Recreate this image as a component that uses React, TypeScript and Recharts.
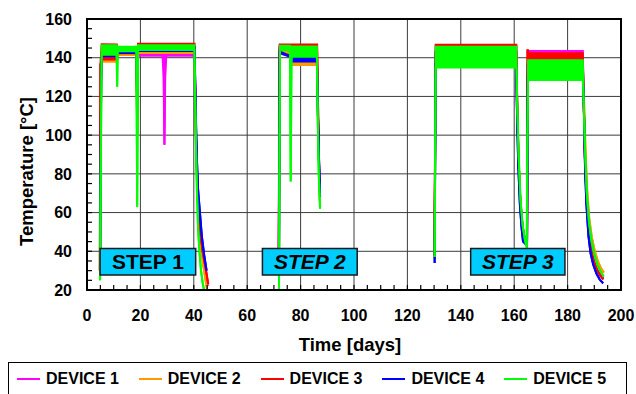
import { ComposedChart, Area, XAxis, YAxis, CartesianGrid, ReferenceArea, Legend } from 'recharts'

// [day, low, high] — low === high on ramps, a band on the plateaus; null row = no data
type Row = [number, number | null, number | null]

const DAY_TICKS = [0, 20, 40, 60, 80, 100, 120, 140, 160, 180, 200]
const DAY_MINOR = [0, 5, 10, 15, 20, 25, 30, 35, 40, 45, 50, 55, 60, 65, 70, 75, 80, 85, 90, 95, 100, 105, 110, 115, 120, 125, 130, 135, 140, 145, 150, 155, 160, 165, 170, 175, 180, 185, 190, 195, 200]
const TEMP_TICKS = [20, 40, 60, 80, 100, 120, 140, 160]
const TEMP_MINOR = [20, 25, 30, 35, 40, 45, 50, 55, 60, 65, 70, 75, 80, 85, 90, 95, 100, 105, 110, 115, 120, 125, 130, 135, 140, 145, 150, 155, 160]

const DEVICE_1: Row[] = [
  [4.9, 30, 30], [5.3, 130, 130], [5.6, 139, 145], [11.2, 139, 145], [11.5, 141.5, 144], [18.5, 141.5, 144],
  [18.8, 120, 120], [19.1, 141, 145], [28.3, 141, 145], [28.7, 130, 141], [29.0, 95, 95], [29.3, 130, 141],
  [29.7, 141, 145], [40.3, 141, 145], [40.6, 115, 115], [41.0, 88, 88], [41.6, 66, 66], [42.4, 50, 50],
  [43.3, 40, 40], [44.5, 29, 29], [45.2, 22, 22],
  [58, null, null],
  [71.8, 40, 40], [72.1, 145, 146.3], [76.0, 145, 146.3], [76.4, 139, 144], [86.1, 139, 144], [86.5, 110, 110],
  [87.0, 80, 80],
  [110, null, null],
  [130.2, 38, 38], [130.4, 100, 100], [130.6, 142.5, 146], [160.8, 142.5, 146], [161.1, 118, 118], [161.6, 88, 88],
  [162.3, 66, 66], [163.1, 53, 53], [164.0, 46, 46], [164.8, 43, 43], [165.1, 138, 143.5], [185.7, 138, 143.5],
  [186.0, 118, 118], [186.5, 88, 88], [187.1, 67, 67], [187.9, 51, 51], [188.8, 42, 42], [189.8, 35, 35],
  [191.0, 30.5, 30.5], [192.2, 28, 28], [193.4, 26, 26],
]

const DEVICE_2: Row[] = [
  [4.9, 28, 28], [5.3, 130, 130], [5.6, 137.9, 139.4], [11.2, 137.9, 139.4], [11.5, 141.4, 143.3], [18.5, 141.4, 143.3],
  [18.8, 110, 110], [19.1, 142.4, 144], [40.3, 142.4, 144], [40.6, 110, 110], [41.0, 85, 85], [41.6, 62, 62],
  [42.4, 46, 46], [43.3, 35, 35], [44.3, 26, 26], [45.0, 20, 20],
  [58, null, null],
  [71.9, 30, 30], [72.2, 142, 144], [76.0, 141, 143], [76.5, 136.2, 138.5], [86.1, 136.2, 138.5], [86.5, 110, 110],
  [86.9, 85, 85], [87.2, 66, 66],
  [110, null, null],
  [130.2, 36, 36], [130.4, 95, 95], [130.6, 138, 144], [160.7, 138, 144], [161.0, 118, 118], [161.6, 88, 88],
  [162.3, 66, 66], [163.1, 53, 53], [164.0, 46, 46], [164.8, 43, 43], [165.1, 131, 137], [185.7, 131, 137],
  [186.1, 120, 120], [186.7, 92, 92], [187.3, 72, 72], [188.1, 57, 57], [189.1, 47, 47], [190.2, 40, 40],
  [191.3, 35, 35], [192.4, 31.5, 31.5], [193.6, 29, 29],
]

const DEVICE_3: Row[] = [
  [4.8, 30, 30], [5.0, 136, 136], [5.5, 139.1, 147], [11.2, 139.1, 146.8], [11.5, 142.3, 144.2], [18.5, 142.3, 144.2],
  [18.8, 100, 100], [19.1, 143.5, 147.2], [40.3, 143.5, 147.2], [40.6, 115, 115], [41.0, 88, 88], [41.6, 66, 66],
  [42.4, 50, 50], [43.3, 40, 40], [44.6, 30, 30], [45.4, 23, 23],
  [58, null, null],
  [71.8, 35, 35], [72.2, 145.5, 146.8], [76.0, 145.5, 146.8], [76.4, 143, 146.8], [86.2, 143, 146.8], [86.6, 110, 110],
  [87.0, 75, 75],
  [110, null, null],
  [130.1, 38, 38], [130.4, 100, 100], [130.6, 143, 146.7], [160.8, 143, 146.7], [161.1, 118, 118], [161.6, 88, 88],
  [162.3, 66, 66], [163.1, 53, 53], [164.0, 46, 46], [164.8, 43, 43], [165.0, 144.3, 144.3], [165.5, 136.3, 142.5],
  [185.7, 136.3, 142.3], [186.0, 118, 118], [186.5, 88, 88], [187.1, 67, 67], [187.9, 51, 51], [188.8, 42, 42],
  [189.8, 35, 35], [191.0, 30.5, 30.5], [192.2, 27.5, 27.5], [193.4, 25.5, 25.5],
]

const DEVICE_4: Row[] = [
  [4.9, 30, 30], [5.3, 128, 128], [5.6, 140.8, 141.4], [11.2, 140.8, 141.4], [11.5, 142.5, 144.5], [18.5, 142.5, 144.5],
  [18.8, 115, 115], [19.1, 143.5, 145.5], [40.3, 143.5, 145.5], [40.7, 115, 115], [41.1, 90, 90], [41.6, 72, 72],
  [42.3, 60, 60], [43.0, 48, 48], [43.9, 38, 38], [44.8, 30, 30],
  [58, null, null],
  [71.9, 28, 28], [72.2, 143, 143.6], [73.0, 142, 142.7], [74.5, 141.2, 141.8], [76.0, 140.5, 141.2], [76.5, 138, 140.5],
  [86.1, 138, 140.5], [86.5, 110, 110], [86.9, 88, 88], [87.3, 68, 68],
  [110, null, null],
  [130.2, 34, 34], [130.4, 90, 90], [130.6, 137, 143], [160.7, 137, 143], [161.0, 115, 115], [161.5, 85, 85],
  [162.1, 65, 65], [162.7, 53, 53], [163.3, 45, 45], [164.8, 43, 43], [165.1, 130, 136], [185.7, 130, 136],
  [186.1, 115, 115], [186.5, 85, 85], [187.0, 65, 65], [187.8, 48, 48], [188.6, 39, 39], [189.6, 33, 33],
  [190.8, 28.5, 28.5], [192.0, 25.5, 25.5], [193.3, 23.5, 23.5],
]

const DEVICE_5: Row[] = [
  [4.9, 25, 25], [5.2, 90, 90], [5.5, 141.5, 146.5], [11.1, 141.5, 146.5], [11.3, 125, 125], [11.5, 143.3, 145.7],
  [18.5, 143.3, 145.7], [18.8, 63, 63], [19.1, 144, 146.5], [40.2, 144, 146.5], [40.5, 120, 120], [40.8, 95, 95],
  [41.2, 70, 70], [41.6, 52, 52], [42.1, 40, 40], [42.7, 30, 30], [43.3, 24, 24], [43.8, 20, 20],
  [58, null, null],
  [71.9, 20, 20], [72.1, 90, 90], [72.3, 143.8, 146.2], [76.0, 143.8, 146.2], [76.3, 76, 76], [76.6, 140.5, 145.8],
  [86.1, 140.5, 145.8], [86.4, 110, 110], [86.8, 80, 80], [87.3, 62, 62],
  [110, null, null],
  [130.2, 37, 37], [130.4, 90, 90], [130.6, 135, 145.6], [160.8, 135, 145.6], [161.1, 118, 118], [161.7, 88, 88],
  [162.4, 66, 66], [163.2, 53, 53], [164.0, 46, 46], [164.7, 42, 42], [164.9, 90, 90], [165.2, 128.5, 138.7],
  [185.7, 128.5, 138.7], [186.0, 118, 118], [186.6, 90, 90], [187.2, 70, 70], [188.0, 55, 55], [189.0, 45, 45],
  [190.0, 38.5, 38.5], [191.2, 33, 33], [192.4, 29.5, 29.5], [193.5, 27, 27],
]

const DEVICES = [
  { name: 'DEVICE 1', color: '#ff00ff', rows: DEVICE_1 },
  { name: 'DEVICE 2', color: '#ff9900', rows: DEVICE_2 },
  { name: 'DEVICE 3', color: '#ff0000', rows: DEVICE_3 },
  { name: 'DEVICE 4', color: '#0000ff', rows: DEVICE_4 },
  { name: 'DEVICE 5', color: '#00ff00', rows: DEVICE_5 },
]

const STEPS = [
  { text: 'STEP 1', from: 4.9, to: 40.7, italic: false },
  { text: 'STEP 2', from: 65.7, to: 101.2, italic: true },
  { text: 'STEP 3', from: 143.7, to: 179, italic: true },
]
const STEP_TEMP = [27.7, 41.5]

const FONT = '"Liberation Sans", Arial, Helvetica, sans-serif'

// split a device on its null rows so each step is its own area
function segments(rows: Row[]) {
  const out: { day: number; range: [number, number] }[][] = [[]]
  rows.forEach(([day, lo, hi]) => {
    if (lo == null || hi == null) out.push([])
    else out[out.length - 1].push({ day, range: [lo, hi] })
  })
  return out.filter((s) => s.length > 0)
}

const titleStyle = { fontFamily: FONT, fontWeight: 'bold' as const, fontSize: 18.5, fill: '#000' }

const XTitle = ({ viewBox }: any) => (
  <text x={viewBox.x + viewBox.width / 2 - 4} y={viewBox.y + 61} textAnchor="middle" style={titleStyle}>
    Time [days]
  </text>
)

const YTitle = ({ viewBox }: any) => {
  const x = viewBox.x + 33
  const y = viewBox.y + viewBox.height / 2 + 17
  return (
    <text x={x} y={y} transform={`rotate(-90 ${x} ${y})`} textAnchor="middle" style={titleStyle}>
      Temperature [°C]
    </text>
  )
}

const StepLabel = ({ viewBox, text, italic }: any) => (
  <text
    x={viewBox.x + viewBox.width / 2}
    y={viewBox.y + viewBox.height / 2 + 7.5}
    textAnchor="middle"
    style={{ fontFamily: FONT, fontWeight: 'bold', fontStyle: italic ? 'italic' : 'normal', fontSize: 21, fill: '#000' }}
  >
    {text}
  </text>
)

const LegendBox = () => (
  <div
    style={{
      height: 32,
      boxSizing: 'border-box',
      borderTop: '1.5px solid #000',
      borderLeft: '1.5px solid #000',
      borderRight: '1.5px solid #000',
      display: 'flex',
      alignItems: 'center',
      paddingLeft: 8,
      fontFamily: FONT,
      fontWeight: 'bold',
      fontSize: 16,
      color: '#000',
    }}
  >
    {DEVICES.map((d) => (
      <div key={d.name} style={{ width: 123.3, display: 'flex', alignItems: 'center' }}>
        <span style={{ display: 'inline-block', width: 23, height: 2, background: d.color, marginRight: 6 }} />
        <span>{d.name}</span>
      </div>
    ))}
  </div>
)

const tickStyle = { fill: '#000', fontSize: 16, fontWeight: 'bold', fontFamily: FONT }
const minorLine = { stroke: '#000', strokeWidth: 1.2 }

export default function App() {
  return (
    <div style={{ position: 'absolute', left: 0, top: 0, width: 636, height: 394, background: '#fff' }}>
      <ComposedChart width={636} height={394} margin={{ top: 19, right: 15, bottom: 0, left: 0 }}>
        <CartesianGrid stroke="#3c3c3c" strokeWidth={1} verticalValues={DAY_TICKS} horizontalValues={TEMP_TICKS} />
        <XAxis
          type="number"
          dataKey="day"
          domain={[0, 200]}
          ticks={DAY_MINOR}
          interval={0}
          allowDataOverflow
          height={72}
          axisLine={false}
          tickSize={-5}
          tickMargin={25}
          tickLine={minorLine}
          tick={tickStyle}
          tickFormatter={(v) => (DAY_TICKS.includes(v) ? String(v) : '')}
          label={(p: any) => <XTitle viewBox={p.viewBox} />}
        />
        <YAxis
          type="number"
          domain={[20, 160]}
          ticks={TEMP_MINOR}
          interval={0}
          allowDataOverflow
          width={87}
          axisLine={false}
          tickSize={-5}
          tickMargin={20}
          tickLine={minorLine}
          tick={tickStyle}
          tickFormatter={(v) => (TEMP_TICKS.includes(v) ? String(v) : '')}
          label={(p: any) => <YTitle viewBox={p.viewBox} />}
        />
        {DEVICES.map((d) =>
          segments(d.rows).map((seg, i) => (
            <Area
              key={`${d.name}-${i}`}
              data={seg}
              dataKey="range"
              type="linear"
              stroke={d.color}
              strokeWidth={2}
              fill={d.color}
              fillOpacity={1}
              dot={false}
              activeDot={false}
              isAnimationActive={false}
              legendType="none"
            />
          ))
        )}
        {STEPS.map((s) => (
          <ReferenceArea
            key={s.text}
            x1={s.from}
            x2={s.to}
            y1={STEP_TEMP[0]}
            y2={STEP_TEMP[1]}
            fill="#00ccff"
            fillOpacity={1}
            stroke="#1a1a1a"
            strokeWidth={1.5}
            ifOverflow="visible"
            zIndex={800}
            label={(p: any) => <StepLabel viewBox={p.viewBox} text={s.text} italic={s.italic} />}
          />
        ))}
        <ReferenceArea
          x1={0}
          x2={200}
          y1={20}
          y2={160}
          fill="none"
          stroke="#000"
          strokeWidth={2}
          ifOverflow="visible"
          zIndex={900}
        />
        <Legend verticalAlign="bottom" wrapperStyle={{ left: 8, width: 619, bottom: 0 }} content={() => <LegendBox />} />
      </ComposedChart>
    </div>
  )
}
